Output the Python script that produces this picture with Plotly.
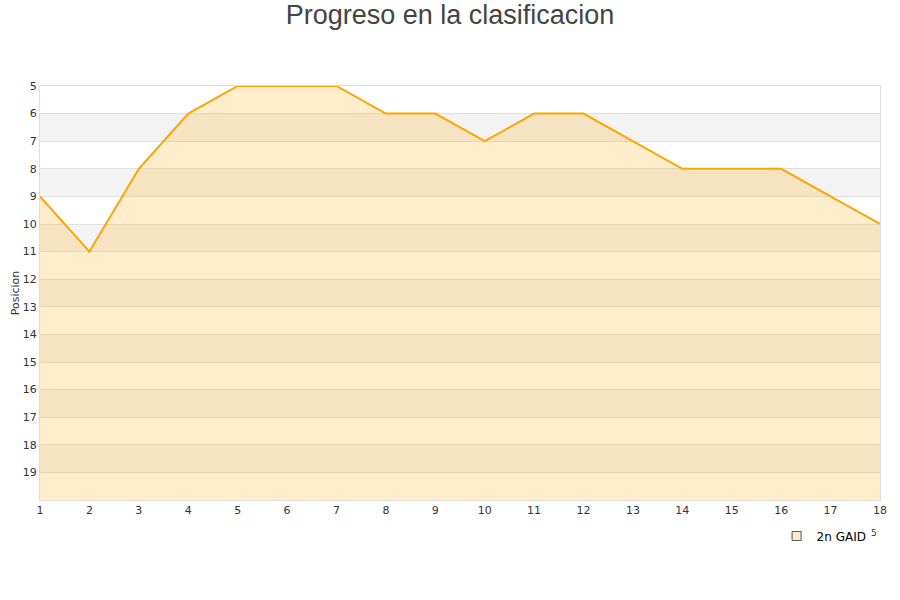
import plotly.graph_objects as go

jornadas = list(range(1, 19))
posiciones = [9, 11, 8, 6, 5, 5, 5, 6, 6, 7, 6, 6, 7, 8, 8, 8, 9, 10]
y_ticks = list(range(5, 20))
equipo = "2n GAID"

fig = go.Figure()
fig.add_trace(go.Scatter(x=jornadas, y=[20] * len(jornadas), mode="lines",
                         line=dict(width=0), showlegend=False, hoverinfo="skip"))
fig.add_trace(go.Scatter(x=jornadas, y=posiciones, mode="lines", name=equipo,
                         line=dict(color="#FFA500", width=2), showlegend=False,
                         fill="tonexty", fillcolor="rgba(255,165,0,0.2)"))
fig.add_trace(go.Scatter(x=[None], y=[None], mode="markers", name=equipo,
                         marker=dict(symbol="square", size=9, color="#FFEBCB",
                                     line=dict(color="#555", width=1))))

shapes = []
for b in range(6, 20, 2):
    shapes.append(dict(type="rect", xref="paper", yref="y", x0=0, x1=1, y0=b, y1=b + 1,
                       fillcolor="#f3f3f3", line=dict(width=0), layer="below"))
fig.update_layout(
    width=900, height=600,
    paper_bgcolor="white", plot_bgcolor="white",
    margin=dict(l=40, r=20, t=86, b=100, autoexpand=False),
    title=dict(text="Progreso en la clasificacion", x=0.5, xanchor="center", y=0.992,
               yanchor="top", font=dict(family="Liberation Sans", size=27, color="#444")),
    font=dict(family="DejaVu Sans", size=11, color="#333"),
    shapes=shapes,
    xaxis=dict(range=[1, 18], tickmode="array", tickvals=jornadas, showgrid=False,
               showline=True, linecolor="#dddddd", mirror=True, zeroline=False,
               ticks="", automargin=False),
    yaxis=dict(range=[20, 5], tickmode="array", tickvals=y_ticks, showgrid=True,
               gridcolor="#e0e0e0", showline=True, linecolor="#dddddd", mirror=True,
               zeroline=False, automargin=False,
               title=dict(text="Posicion", font=dict(size=11), standoff=0)),
    legend=dict(x=0.99, xanchor="right", y=-0.087, yanchor="middle",
                font=dict(size=12, color="#000"), bgcolor="rgba(0,0,0,0)"),
)
fig.add_annotation(text="5", xref="paper", yref="paper", x=(879 - 40) / 840, y=(500 - 540) / 414,
                   showarrow=False, font=dict(size=9, color="#333"))
fig.write_html("out.html", post_script="document.body.style.margin='0';",
               config={"displayModeBar": False})
